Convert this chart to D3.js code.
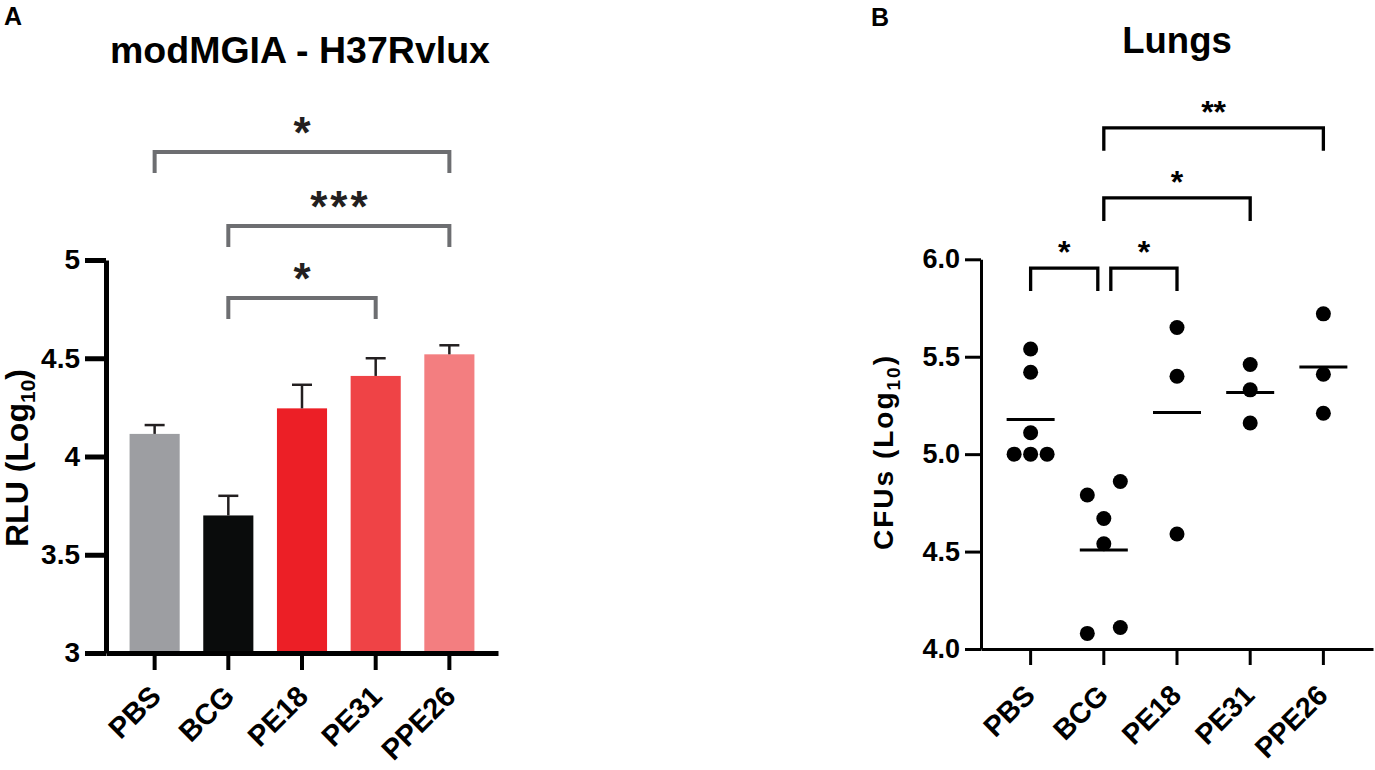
<!DOCTYPE html>
<html><head><meta charset="utf-8">
<script src="https://cdn.jsdelivr.net/npm/d3@7"></script>
<style>body{margin:0;background:#fff} text{font-family:"Liberation Sans",Arial,sans-serif;font-weight:bold}</style>
</head><body><svg id="c" width="1375" height="770" xmlns="http://www.w3.org/2000/svg"></svg>
<script>
// ---------- data ----------
const categories = ["PBS", "BCG", "PE18", "PE31", "PPE26"];
// Panel A: modMGIA - H37Rvlux (RLU, log10): mean and SEM
const rluMean = [4.115, 3.70, 4.245, 4.41, 4.52];
const rluSem  = [0.045, 0.10, 0.12, 0.09, 0.046];
const barColors = ["#9d9ea2", "#0a0c0c", "#ec1f26", "#ef4346", "#f37e80"];
const yTicksA = [3, 3.5, 4, 4.5, 5];
const compA = [
  {from: "PBS", to: "PPE26", at: 5.55,  label: "*"},
  {from: "BCG", to: "PPE26", at: 5.173, label: "***"},
  {from: "BCG", to: "PE31",  at: 4.807, label: "*"}
];
// Panel B: Lungs (CFUs, log10) individual animals
const cfuPBS   = [5.54, 5.42, 5.11, 5.00, 5.00, 5.00];
const cfuBCG   = [4.86, 4.79, 4.67, 4.54, 4.11, 4.08];
const cfuPE18  = [5.65, 5.40, 4.59];
const cfuPE31  = [5.46, 5.33, 5.16];
const cfuPPE26 = [5.72, 5.41, 5.21];
const cfuValues = [cfuPBS, cfuBCG, cfuPE18, cfuPE31, cfuPPE26];
const yTicksB = [4.0, 4.5, 5.0, 5.5, 6.0];
const compB = [
  {from: "PBS", to: "BCG",   at: 5.955, label: "*"},
  {from: "BCG", to: "PE18",  at: 5.955, label: "*"},
  {from: "BCG", to: "PE31",  at: 6.315, label: "*"},
  {from: "BCG", to: "PPE26", at: 6.675, label: "**"}
];

const svg = d3.select("#c");

// ---------- Panel A ----------
const gA = svg.append("g");
const yA = d3.scaleLinear().domain([3, 5]).range([653, 260]);
const xA = d3.scaleBand().domain(categories).range([106, 498]).paddingInner(0.32).paddingOuter(0.32);
const cA = c => xA(c) + xA.bandwidth() / 2;

gA.append("text").attr("x", 4).attr("y", 25).attr("font-size", 25).text("A");
gA.append("text").attr("x", 300).attr("y", 63).attr("text-anchor", "middle").attr("font-size", 37.5).text("modMGIA - H37Rvlux");

// bars
gA.selectAll("rect.bar").data(categories).join("rect")
  .attr("x", d => xA(d)).attr("width", xA.bandwidth())
  .attr("y", (d, i) => yA(rluMean[i])).attr("height", (d, i) => yA(3) - yA(rluMean[i]))
  .attr("fill", (d, i) => barColors[i]);
// error bars
const eb = gA.selectAll("g.err").data(categories).join("g").attr("stroke", "#231f20").attr("stroke-width", 2.5);
eb.append("line").attr("x1", d => cA(d)).attr("x2", d => cA(d))
  .attr("y1", (d, i) => yA(rluMean[i])).attr("y2", (d, i) => yA(rluMean[i] + rluSem[i]));
eb.append("line").attr("x1", d => cA(d) - 10).attr("x2", d => cA(d) + 10)
  .attr("y1", (d, i) => yA(rluMean[i] + rluSem[i])).attr("y2", (d, i) => yA(rluMean[i] + rluSem[i]));

// axes
const axA = gA.append("g").attr("transform", `translate(${xA.range()[0]},0)`)
  .call(d3.axisLeft(yA).tickValues(yTicksA).tickSize(21).tickSizeOuter(0).tickPadding(5).tickFormat(d3.format("")));
axA.selectAll("path,line").attr("stroke", "#000").attr("stroke-width", 5);
axA.selectAll("text").attr("font-size", 28).attr("font-family", "Liberation Sans").attr("font-weight", "bold").attr("fill", "#000");
const axAx = gA.append("g").attr("transform", `translate(0,${yA(3)})`)
  .call(d3.axisBottom(xA).tickSize(17).tickSizeOuter(0));
axAx.selectAll("path").attr("stroke", "#000").attr("stroke-width", 5);
axAx.selectAll("line").attr("stroke", "#000").attr("stroke-width", 4);
axAx.selectAll("text").remove();
gA.selectAll("text.xl").data(categories).join("text")
  .attr("transform", d => `translate(${cA(d) + 8},${yA(3) + 45}) rotate(-45)`)
  .attr("text-anchor", "end").attr("font-size", 29).text(d => d);

// y label
const ylA = gA.append("text").attr("transform", "translate(28,458) rotate(-90)").attr("text-anchor", "middle").attr("font-size", 32);
ylA.append("tspan").text("RLU (Log");
ylA.append("tspan").attr("font-size", 21).attr("dy", 7).text("10");
ylA.append("tspan").attr("dy", -7).text(")");

// brackets A
const dropA = 0.107;
compA.forEach(c => {
  const x1 = cA(c.from), x2 = cA(c.to);
  gA.append("path").attr("fill", "none").attr("stroke", "#6d6e71").attr("stroke-width", 4)
    .attr("d", `M${x1},${yA(c.at - dropA)}V${yA(c.at)}H${x2}V${yA(c.at - dropA)}`);
  gA.append("text").attr("x", (x1 + x2) / 2 + 1.5).attr("y", yA(c.at) - 4).attr("text-anchor", "middle")
    .attr("font-size", 44).attr("font-weight", "normal").attr("letter-spacing", 3)
    .attr("fill", "#231f20").text(c.label);
});

// ---------- Panel B ----------
const gB = svg.append("g");
const yB = d3.scaleLinear().domain([4, 6]).range([649, 259.3]);
const xB = d3.scaleBand().domain(categories).range([981, 1373]).paddingInner(0).paddingOuter(0.178);
const cB = c => xB(c) + xB.bandwidth() / 2;

gB.append("text").attr("x", 871).attr("y", 26).attr("font-size", 25).text("B");
gB.append("text").attr("x", 1177).attr("y", 53).attr("text-anchor", "middle").attr("font-size", 36.5).text("Lungs");

const axB = gB.append("g").attr("transform", `translate(${xB.range()[0]},0)`)
  .call(d3.axisLeft(yB).tickValues(yTicksB).tickSize(16).tickSizeOuter(0).tickPadding(5).tickFormat(d3.format(".1f")));
axB.selectAll("path,line").attr("stroke", "#000").attr("stroke-width", 3);
axB.selectAll("text").attr("font-size", 27).attr("font-family", "Liberation Sans").attr("font-weight", "bold").attr("fill", "#000");
const axBx = gB.append("g").attr("transform", `translate(0,${yB(4)})`)
  .call(d3.axisBottom(xB).tickSize(16).tickSizeOuter(0));
axBx.selectAll("path,line").attr("stroke", "#000").attr("stroke-width", 3);
axBx.selectAll("text").remove();
gB.selectAll("text.xl").data(categories).join("text")
  .attr("transform", d => `translate(${cB(d) + 6},${yB(4) + 48}) rotate(-45)`)
  .attr("text-anchor", "end").attr("font-size", 28.5).text(d => d);

const ylB = gB.append("text").attr("transform", "translate(893,452) rotate(-90)").attr("text-anchor", "middle")
  .attr("font-size", 28).attr("letter-spacing", 2);
ylB.append("tspan").text("CFUs (Log");
ylB.append("tspan").attr("font-size", 19).attr("dy", 7).text("10");
ylB.append("tspan").attr("dy", -7).text(")");

// points with row layout (points that would overlap share a row, centred)
const r = 7.5, unit = 2.2 * r;
function layout(vals) {
  const idx = vals.map((v, i) => i).sort((a, b) => vals[a] - vals[b]);
  const rows = [];
  idx.forEach(i => {
    const last = rows[rows.length - 1];
    if (last && Math.abs(yB(vals[last[0]]) - yB(vals[i])) < 2 * r) last.push(i); else rows.push([i]);
  });
  const off = new Array(vals.length).fill(0);
  rows.forEach(row => {
    const n = row.length, k = n % 2 ? 1 : 2;
    row.forEach((i, j) => off[i] = (j - (n - 1) / 2) * k * unit);
  });
  return off;
}
categories.forEach((c, gi) => {
  const vals = cfuValues[gi], off = layout(vals);
  gB.selectAll(null).data(vals).join("circle")
    .attr("cx", (v, i) => cB(c) + off[i]).attr("cy", v => yB(v)).attr("r", r).attr("fill", "#000");
  gB.append("line").attr("x1", cB(c) - 24).attr("x2", cB(c) + 24)
    .attr("y1", yB(d3.mean(vals))).attr("y2", yB(d3.mean(vals))).attr("stroke", "#000").attr("stroke-width", 3);
});

// brackets B
const dropB = 0.118;
compB.forEach(c => {
  const shared = compB.filter(o => o !== c && o.at === c.at);
  let x1 = cB(c.from), x2 = cB(c.to);
  if (shared.some(o => o.to === c.from || o.from === c.from)) x1 += 7;
  if (shared.some(o => o.from === c.to || o.to === c.to)) x2 -= 6;
  gB.append("path").attr("fill", "none").attr("stroke", "#000").attr("stroke-width", 3.3)
    .attr("d", `M${x1},${yB(c.at - dropB)}V${yB(c.at)}H${x2}V${yB(c.at - dropB)}`);
  gB.append("text").attr("x", (x1 + x2) / 2).attr("y", yB(c.at) - 5).attr("text-anchor", "middle")
    .attr("font-size", 32).attr("font-weight", "normal").attr("fill", "#000").text(c.label);
});
</script></body></html>
